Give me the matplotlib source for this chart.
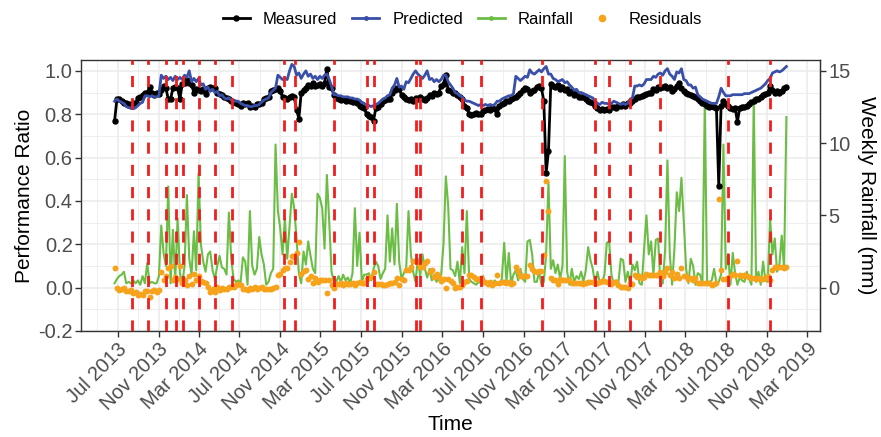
import numpy as np
import pandas as pd
import matplotlib
matplotlib.use("Agg")
import matplotlib.pyplot as plt
import matplotlib.dates as mdates
from matplotlib.lines import Line2D

plt.rcParams["font.family"] = ["Liberation Sans", "DejaVu Sans"]

# ----------------------------------------------------------
# weekly series (first week starting 2013-06-22)
# ----------------------------------------------------------

start_date = "2013-06-22"

measured = [
    0.77, 0.87, 0.87, 0.86, 0.85, 0.85, 0.845, 0.84, 0.85, 0.85,
    0.875, 0.88, 0.89, 0.90, 0.90, 0.925, 0.90, 0.89, 0.90, 0.895,
    0.91, 0.93, 0.92, 0.87, 0.87, 0.92, 0.925, 0.92, 0.87, 0.94,
    0.945, 0.96, 0.945, 0.935, 0.90, 0.915, 0.91, 0.905, 0.915, 0.895,
    0.92, 0.925, 0.92, 0.92, 0.90, 0.895, 0.89, 0.88, 0.875, 0.87,
    0.86, 0.855, 0.85, 0.845, 0.84, 0.85, 0.845, 0.85, 0.835, 0.84,
    0.835, 0.845, 0.845, 0.85, 0.87, 0.875, 0.88, 0.905, 0.91, 0.915,
    0.92, 0.905, 0.88, 0.875, 0.87, 0.88, 0.885, 0.88, 0.82, 0.78,
    0.90, 0.91, 0.92, 0.935, 0.93, 0.945, 0.93, 0.935, 0.94, 0.93,
    0.945, 1.01, 0.925, 0.92, 0.89, 0.875, 0.87, 0.865, 0.87, 0.86,
    0.865, 0.86, 0.855, 0.86, 0.85, 0.84, 0.835, 0.83, 0.80, 0.79,
    0.785, 0.77, 0.83, 0.835, 0.845, 0.86, 0.865, 0.87, 0.87, 0.90,
    0.91, 0.92, 0.915, 0.89, 0.88, 0.87, 0.865, 0.87, 0.86, 0.875,
    0.87, 0.88, 0.87, 0.865, 0.875, 0.89, 0.885, 0.90, 0.895, 0.90,
    0.93, 0.94, 0.98, 0.91, 0.905, 0.90, 0.90, 0.89, 0.88, 0.87,
    0.84, 0.83, 0.80, 0.795, 0.80, 0.805, 0.80, 0.80, 0.815, 0.82,
    0.825, 0.82, 0.83, 0.825, 0.80, 0.84, 0.845, 0.85, 0.86, 0.86,
    0.87, 0.875, 0.88, 0.89, 0.90, 0.91, 0.92, 0.915, 0.90, 0.905,
    0.91, 0.925, 0.93, 0.92, 0.86, 0.53, 0.63, 0.94, 0.93, 0.925,
    0.935, 0.915, 0.925, 0.91, 0.915, 0.90, 0.905, 0.89, 0.895, 0.88,
    0.88, 0.88, 0.87, 0.86, 0.855, 0.85, 0.84, 0.83, 0.82, 0.825,
    0.82, 0.825, 0.82, 0.835, 0.835, 0.83, 0.84, 0.84, 0.845, 0.84,
    0.85, 0.85, 0.86, 0.87, 0.88, 0.88, 0.885, 0.89, 0.895, 0.90,
    0.90, 0.915, 0.91, 0.925, 0.92, 0.925, 0.93, 0.92, 0.925, 0.905,
    0.915, 0.93, 0.945, 0.92, 0.905, 0.90, 0.895, 0.89, 0.885, 0.88,
    0.87, 0.86, 0.85, 0.845, 0.84, 0.835, 0.84, 0.835, 0.83, 0.47,
    0.84, 0.86, 0.845, 0.84, 0.83, 0.825, 0.83, 0.765, 0.83, 0.835,
    0.835, 0.84, 0.845, 0.855, 0.86, 0.87, 0.87, 0.88, 0.89, 0.895,
    0.90, 0.93, 0.91, 0.90, 0.905, 0.90, 0.905, 0.92, 0.925,
]

predicted = [
    0.86, 0.87, 0.86, 0.855, 0.85, 0.835, 0.83, 0.83, 0.825, 0.83,
    0.84, 0.85, 0.855, 0.885, 0.885, 0.88, 0.885, 0.88, 0.88, 0.885,
    0.98, 0.965, 0.975, 0.96, 0.97, 0.955, 0.975, 0.96, 0.97, 0.96,
    0.98, 0.97, 1.0, 0.95, 0.965, 0.95, 0.965, 0.935, 0.94, 0.915,
    0.925, 0.905, 0.915, 0.90, 0.905, 0.885, 0.89, 0.875, 0.87, 0.875,
    0.865, 0.86, 0.86, 0.86, 0.85, 0.845, 0.84, 0.84, 0.835, 0.835,
    0.84, 0.84, 0.845, 0.855, 0.865, 0.87, 0.875, 0.90, 0.91, 0.92,
    0.98, 0.97, 0.96, 0.965, 0.96, 1.0, 1.03, 1.02, 0.98, 0.99,
    0.965, 0.985, 1.0, 0.975, 0.985, 0.965, 0.975, 0.96, 0.975, 0.965,
    0.98, 0.985, 0.96, 0.93, 0.89, 0.89, 0.885, 0.885, 0.88, 0.88,
    0.88, 0.875, 0.875, 0.87, 0.87, 0.865, 0.855, 0.85, 0.84, 0.84,
    0.835, 0.84, 0.845, 0.85, 0.86, 0.87, 0.875, 0.885, 0.89, 0.92,
    0.935, 0.965, 0.925, 0.93, 0.915, 0.95, 0.945, 0.965, 0.985, 1.0,
    0.985, 0.975, 0.965, 0.98, 1.0, 0.96, 0.965, 0.95, 0.96, 0.95,
    0.96, 0.98, 0.98, 0.95, 0.935, 0.92, 0.90, 0.895, 0.885, 0.88,
    0.865, 0.86, 0.86, 0.855, 0.85, 0.845, 0.84, 0.845, 0.84, 0.845,
    0.84, 0.845, 0.84, 0.845, 0.86, 0.86, 0.87, 0.875, 0.88, 0.885,
    0.885, 0.895, 0.975, 0.965, 0.955, 0.965, 0.975, 0.97, 1.005, 0.99,
    0.985, 0.995, 1.005, 0.995, 1.01, 1.02, 0.985, 0.985, 0.965, 0.96,
    0.95, 0.955, 0.96, 0.945, 0.95, 0.935, 0.925, 0.91, 0.915, 0.90,
    0.90, 0.895, 0.89, 0.885, 0.88, 0.875, 0.86, 0.85, 0.845, 0.855,
    0.85, 0.85, 0.845, 0.85, 0.86, 0.855, 0.85, 0.845, 0.85, 0.845,
    0.85, 0.87, 0.875, 0.93, 0.93, 0.935, 0.93, 0.94, 0.96, 0.96,
    0.96, 0.975, 0.97, 0.985, 0.99, 0.98, 1.0, 1.01, 0.985, 0.975,
    0.96, 0.995, 0.99, 1.01, 0.96, 0.955, 0.935, 0.935, 0.92, 0.925,
    0.89, 0.88, 0.87, 0.865, 0.86, 0.855, 0.85, 0.85, 0.85, 0.88,
    0.92, 0.90, 0.885, 0.885, 0.885, 0.89, 0.89, 0.89, 0.89, 0.89,
    0.895, 0.895, 0.895, 0.90, 0.905, 0.91, 0.915, 0.92, 0.93, 0.94,
    0.955, 0.965, 0.99, 0.995, 1.0, 0.995, 1.0, 1.01, 1.02,
]

rainfall_mm = [
    0.3, 0.6, 0.8, 0.9, 1.1, 0.3, 0.4, 0.3, 0.5, 0.3,
    0.5, 0.2, 0.8, 0.3, 1.7, 0.3, 0.4, 0.3, 0.3, 0.8,
    4.3, 2.4, 1.5, 7.0, 0.3, 4.0, 0.5, 4.8, 1.0, 0.3,
    1.5, 6.4, 2.0, 0.9, 3.9, 1.2, 7.9, 3.0, 1.8, 1.1,
    2.3, 2.5, 1.2, 0.6, 1.5, 2.2, 1.4, 1.3, 0.9, 5.2,
    2.0, 0.6, 0.4, 0.5, 0.3, 2.1, 1.8, 0.2, 5.3, 1.5,
    0.9, 1.3, 3.5, 2.3, 1.6, 0.2, 0.4, 1.0, 1.3, 9.9,
    5.3, 4.1, 2.3, 4.8, 2.0, 4.3, 6.5, 5.5, 3.4, 1.0,
    0.3, 2.5, 1.6, 3.2, 2.2, 1.3, 1.0, 6.5, 6.2, 5.5,
    2.7, 7.8, 4.6, 1.1, 0.4, 0.4, 0.8, 0.4, 0.9, 0.5,
    0.7, 0.3, 1.0, 5.5, 1.5, 3.8, 0.4, 0.9, 0.9, 1.0,
    0.5, 1.3, 1.8, 1.5, 0.6, 1.0, 1.3, 5.0, 1.8, 4.1,
    1.6, 5.8, 1.8, 0.6, 1.0, 1.3, 5.3, 2.3, 1.1, 0.4,
    2.0, 0.8, 2.3, 1.3, 0.7, 1.3, 0.5, 0.9, 0.4, 0.6,
    0.9, 3.0, 7.7, 5.7, 1.3, 1.2, 0.8, 1.8, 0.3, 2.8,
    1.0, 5.3, 0.6, 0.4, 0.3, 0.2, 0.4, 0.3, 0.8, 0.3,
    0.2, 0.4, 0.3, 0.5, 0.2, 0.2, 0.6, 3.1, 0.4, 2.4,
    0.3, 0.9, 1.2, 0.5, 1.3, 0.6, 0.4, 3.2, 3.3, 2.3,
    0.4, 0.4, 1.1, 0.2, 0.4, 2.3, 7.3, 1.3, 1.9, 1.0,
    1.6, 0.6, 1.5, 9.1, 1.1, 0.2, 1.3, 0.4, 0.8, 0.6,
    1.1, 0.4, 1.2, 2.8, 1.9, 1.3, 0.2, 1.1, 0.3, 0.4,
    0.9, 3.1, 3.2, 0.9, 0.2, 0.5, 0.4, 2.0, 1.9, 0.4,
    1.1, 0.2, 1.6, 1.2, 1.8, 0.3, 0.2, 2.7, 5.0, 2.3,
    3.2, 0.9, 3.3, 3.4, 0.2, 0.3, 2.6, 8.8, 2.3, 0.2,
    2.7, 6.6, 5.3, 7.6, 4.6, 1.3, 0.3, 2.0, 1.5, 0.2,
    1.0, 0.9, 0.2, 12.8, 0.2, 0.4, 0.5, 1.3, 0.3, 0.4,
    0.9, 9.9, 1.3, 2.3, 0.2, 2.4, 1.0, 0.2, 0.7, 0.5,
    0.4, 1.1, 0.6, 0.2, 13.1, 0.4, 1.1, 0.2, 1.8, 0.5,
    0.4, 4.8, 2.3, 3.4, 1.1, 1.6, 3.6, 1.3, 11.8,
]

# panel cleaning events
cleaning_dates = [
    "2013-08-12", "2013-09-30", "2013-11-24", "2013-12-22", "2014-01-13",
    "2014-03-02", "2014-04-20", "2014-06-08", "2014-11-11", "2014-12-14",
    "2015-04-11", "2015-07-18", "2015-08-08", "2015-12-12", "2015-12-25",
    "2016-05-01", "2016-06-26", "2016-12-25", "2017-06-03", "2017-07-16",
    "2017-09-17", "2017-12-16", "2018-07-07", "2018-11-10",
]

RAIN_SCALE = 15.0

dates = pd.date_range(start_date, periods=len(measured), freq="7D")
measured = np.array(measured)
predicted = np.array(predicted)
rainfall_mm = np.array(rainfall_mm)
residuals = predicted - measured

# ----------------------------------------------------------
# figure
# ----------------------------------------------------------

fig = plt.figure(figsize=(8.81, 4.37), dpi=100)
ax = fig.add_axes([81 / 881, 1 - 331 / 437, 739 / 881, 271 / 437])

c_meas = "black"
c_pred = "#3A4FA8"
c_rain = "#6CBD45"
c_res = "#F7A21B"
c_event = "#F01E1E"

ax.plot(dates, rainfall_mm / RAIN_SCALE, color=c_rain, lw=1.5, zorder=2)
ax.plot(dates, measured, color=c_meas, lw=2.0, marker="o", ms=3.6,
        zorder=3)
ax.plot(dates, predicted, color=c_pred, lw=2.0, zorder=4)
ax.scatter(dates, residuals, color=c_res, s=18, linewidths=0, zorder=5)

for d in cleaning_dates:
    ax.axvline(pd.Timestamp(d), color=c_event, lw=2.0,
               linestyle=(0, (4, 4)), zorder=6)

# x range padded 5% either side like ggplot
span = dates[-1] - dates[0]
ax.set_xlim(dates[0] - 0.05 * span, dates[-1] + 0.05 * span)
ax.set_ylim(-0.2, 1.05)

ax.xaxis.set_major_locator(mdates.MonthLocator(bymonth=[3, 7, 11]))
ax.xaxis.set_minor_locator(mdates.MonthLocator(bymonth=[1, 5, 9]))
ax.xaxis.set_major_formatter(mdates.DateFormatter("%b %Y"))
ax.set_yticks(np.arange(-0.2, 1.01, 0.2))
ax.set_yticks(np.arange(-0.1, 1.01, 0.2), minor=True)
ax.yaxis.set_major_formatter(plt.FuncFormatter(lambda v, p: f"{v:.1f}"))

ax.grid(which="major", color="#EBEBEB", lw=1.1, zorder=0)
ax.grid(which="minor", color="#EBEBEB", lw=0.55, zorder=0)
ax.set_axisbelow(True)

for s in ax.spines.values():
    s.set_color("#333333")
    s.set_linewidth(1.0)

ax.tick_params(which="major", length=4, width=1, color="#333333",
               labelcolor="#4D4D4D", labelsize=14.5, pad=2)
ax.tick_params(which="minor", length=0)
plt.setp(ax.get_xticklabels(), rotation=45, ha="right",
         rotation_mode="anchor")

sec = ax.secondary_yaxis("right", functions=(lambda y: y * RAIN_SCALE,
                                             lambda y: y / RAIN_SCALE))
sec.set_yticks([0, 5, 10, 15])
sec.tick_params(length=4, width=1, color="#333333",
                labelcolor="#4D4D4D", labelsize=14.5, pad=2)
sec.spines["right"].set_color("#333333")
sec.set_ylabel("Weekly Rainfall (mm)", fontsize=15, rotation=270,
               labelpad=18)

ax.set_ylabel("Performance Ratio", fontsize=15)
ax.yaxis.set_label_coords(-0.064, 0.5)
ax.set_xlabel("Time", fontsize=15)
ax.xaxis.set_label_coords(0.5, -0.31)

handles = [
    Line2D([], [], color=c_meas, lw=2.0, marker="o", ms=3.6),
    Line2D([], [], color=c_pred, lw=2.0, marker="o", ms=2.5),
    Line2D([], [], color=c_rain, lw=2.0, marker="o", ms=2.5),
    Line2D([], [], color=c_res, lw=0, marker="o", ms=4.5),
]
fig.legend(handles, ["Measured", "Predicted", "Rainfall", "Residuals"],
           loc="center", bbox_to_anchor=(0.525, 0.955), ncol=4,
           frameon=False, fontsize=12, handlelength=1.6, columnspacing=0.9,
           handletextpad=0.8)

fig.savefig("out.png", dpi=100)
